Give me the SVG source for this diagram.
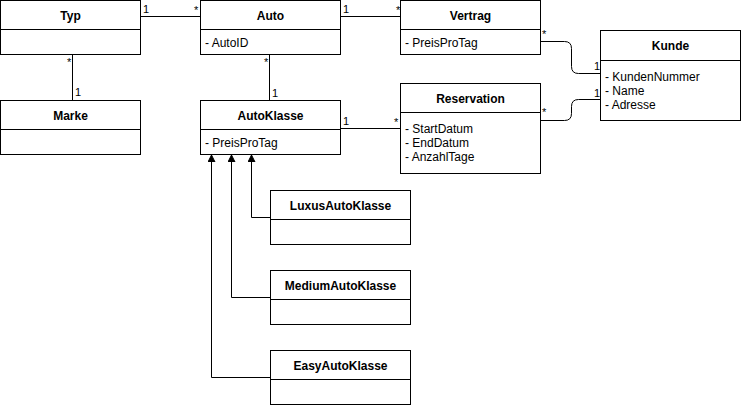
<svg xmlns="http://www.w3.org/2000/svg" width="741" height="405" viewBox="0 0 741 405">
<style>
.box{fill:#fff;stroke:#000;stroke-width:1}
.t{font-family:"Liberation Sans",Arial,sans-serif;font-size:12px;font-weight:bold;text-anchor:middle;fill:#000}
.a{font-family:"Liberation Sans",Arial,sans-serif;font-size:12px;fill:#000}
.m{font-family:"Liberation Sans",Arial,sans-serif;font-size:11px;fill:#000}
.e{fill:none;stroke:#000;stroke-width:1}
</style>
<defs>
<marker id="tri" markerWidth="8" markerHeight="8" refX="7" refY="4" orient="auto" markerUnits="userSpaceOnUse">
<path d="M0,0.5 L7,4 L0,7.5 Z" fill="#000" stroke="#000" stroke-width="1"/>
</marker>
</defs>
<rect width="741" height="405" fill="#fff"/>
<g id="connectors">
<path class="e" d="M140.5,16.5 H200.5"/>
<path class="e" d="M72.5,54.5 V100.5"/>
<path class="e" d="M269.5,54.5 V100.5"/>
<path class="e" d="M340.5,16.5 H400.5"/>
<path class="e" d="M340.5,128.5 H400.5"/>
<path class="e" d="M540.5,41.5 H564.5 Q571.5,41.5 571.5,48.5 V66.5 Q571.5,73.5 578.5,73.5 H600.5"/>
<path class="e" d="M540.5,120.5 H564.5 Q571.5,120.5 571.5,113.5 V106.5 Q571.5,99.5 578.5,99.5 H600.5"/>
<path class="e" d="M270.5,217.5 H251.5 V155" marker-end="url(#tri)"/>
<path class="e" d="M270.5,297.5 H231.5 V155" marker-end="url(#tri)"/>
<path class="e" d="M270.5,377.5 H211.5 V155" marker-end="url(#tri)"/>
<text class="m" x="143" y="13">1</text>
<text class="m" x="194" y="14">*</text>
<text class="m" x="67" y="66">*</text>
<text class="m" x="75" y="96">1</text>
<text class="m" x="264" y="66">*</text>
<text class="m" x="272" y="97">1</text>
<text class="m" x="343" y="13">1</text>
<text class="m" x="396" y="14">*</text>
<text class="m" x="343" y="125">1</text>
<text class="m" x="394" y="126">*</text>
<text class="m" x="542" y="38">*</text>
<text class="m" x="594" y="70">1</text>
<text class="m" x="542" y="116">*</text>
<text class="m" x="594" y="97">1</text>
</g>
<g id="Typ">
<rect class="box" x="0.5" y="0.5" width="140" height="54"/>
<line class="e" x1="0.5" y1="29.5" x2="140.5" y2="29.5"/>
<text class="t" x="70.5" y="20">Typ</text>
</g>
<g id="Auto">
<rect class="box" x="200.5" y="0.5" width="140" height="54"/>
<line class="e" x1="200.5" y1="29.5" x2="340.5" y2="29.5"/>
<text class="t" x="270.5" y="20">Auto</text>
<text class="a" x="205" y="47">- AutoID</text>
</g>
<g id="Vertrag">
<rect class="box" x="400.5" y="0.5" width="140" height="54"/>
<line class="e" x1="400.5" y1="29.5" x2="540.5" y2="29.5"/>
<text class="t" x="470.5" y="20">Vertrag</text>
<text class="a" x="405" y="47">- PreisProTag</text>
</g>
<g id="Marke">
<rect class="box" x="0.5" y="100.5" width="140" height="54"/>
<line class="e" x1="0.5" y1="129.5" x2="140.5" y2="129.5"/>
<text class="t" x="70.5" y="120">Marke</text>
</g>
<g id="AutoKlasse">
<rect class="box" x="200.5" y="100.5" width="140" height="54"/>
<line class="e" x1="200.5" y1="129.5" x2="340.5" y2="129.5"/>
<text class="t" x="270.5" y="120">AutoKlasse</text>
<text class="a" x="205" y="147">- PreisProTag</text>
</g>
<g id="Kunde">
<rect class="box" x="600.5" y="30.5" width="140" height="90"/>
<line class="e" x1="600.5" y1="60.5" x2="740.5" y2="60.5"/>
<text class="t" x="670.5" y="50">Kunde</text>
<text class="a" x="605" y="81">- KundenNummer</text>
<text class="a" x="605" y="95">- Name</text>
<text class="a" x="605" y="109">- Adresse</text>
</g>
<g id="Reservation">
<rect class="box" x="400.5" y="83.5" width="140" height="90"/>
<line class="e" x1="400.5" y1="112.5" x2="540.5" y2="112.5"/>
<text class="t" x="470.5" y="103">Reservation</text>
<text class="a" x="405" y="133">- StartDatum</text>
<text class="a" x="405" y="147">- EndDatum</text>
<text class="a" x="405" y="161">- AnzahlTage</text>
</g>
<g id="LuxusAutoKlasse">
<rect class="box" x="270.5" y="190.5" width="140" height="54"/>
<line class="e" x1="270.5" y1="219.5" x2="410.5" y2="219.5"/>
<text class="t" x="340.5" y="210">LuxusAutoKlasse</text>
</g>
<g id="MediumAutoKlasse">
<rect class="box" x="270.5" y="270.5" width="140" height="54"/>
<line class="e" x1="270.5" y1="299.5" x2="410.5" y2="299.5"/>
<text class="t" x="340.5" y="290">MediumAutoKlasse</text>
</g>
<g id="EasyAutoKlasse">
<rect class="box" x="270.5" y="350.5" width="140" height="54"/>
<line class="e" x1="270.5" y1="379.5" x2="410.5" y2="379.5"/>
<text class="t" x="340.5" y="370">EasyAutoKlasse</text>
</g>
</svg>
